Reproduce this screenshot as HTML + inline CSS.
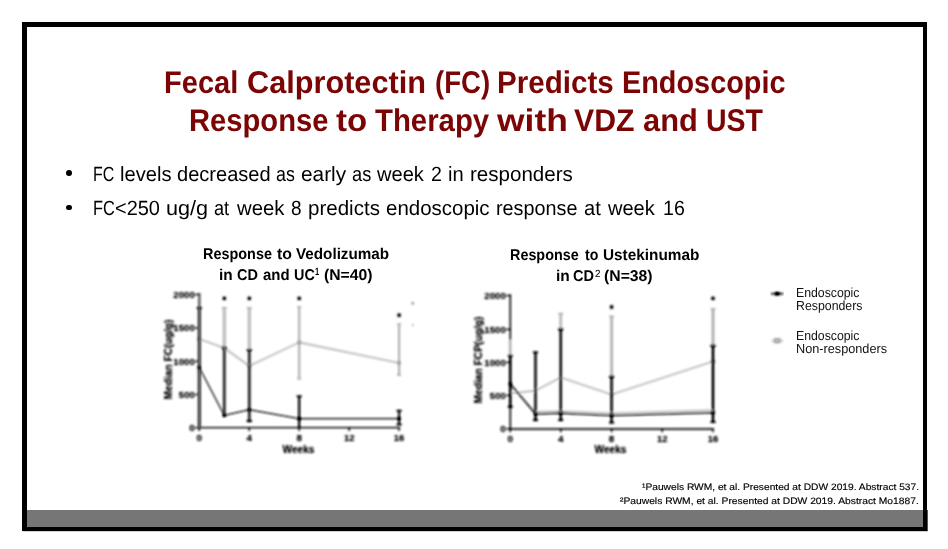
<!DOCTYPE html>
<html lang="en"><head><meta charset="utf-8"><title>Fecal Calprotectin (FC) Predicts Endoscopic Response</title>
<style>
html,body{margin:0;padding:0;background:#fff;}
body{width:948px;height:549px;position:relative;overflow:hidden;font-family:"Liberation Sans",sans-serif;}
.slide{position:absolute;left:22px;top:22px;width:905px;height:509px;box-sizing:border-box;border-style:solid;border-color:#000;border-width:5px 4px 4px 5px;background:#fff;}
.bar{position:absolute;left:27px;top:510px;width:896px;height:17px;background:#767676;}
.shadow{position:absolute;left:927px;top:510px;width:1px;height:21px;background:#555;}
.shadow2{position:absolute;left:23px;top:531px;width:905px;height:1px;background:rgba(0,0,0,0.18);}
h1,p,.g,sup{position:absolute;left:0;top:0;margin:0;padding:0;font-size:0;font-weight:400;}
.t{position:absolute;white-space:nowrap;text-rendering:geometricPrecision;line-height:1;transform-origin:0 0;margin:0;padding:0;}
.dot{position:absolute;width:5.8px;height:5.8px;border-radius:50%;background:#000;}
svg{position:absolute;left:0;top:0;}
</style></head><body>
<div class="slide"></div><div class="bar"></div><div class="shadow"></div><div class="shadow2"></div>
<h1>
<span class="t" style="left:164.45px;top:67.00px;font-size:31.4px;font-weight:700;color:#7b0505;transform-origin:0 26px;transform:scale(0.9250,1)">Fecal </span>
<span class="t" style="left:246.72px;top:67.00px;font-size:31.4px;font-weight:700;color:#7b0505;transform-origin:0 26px;transform:scale(0.9772,1)">Calprotectin </span>
<span class="t" style="left:434.92px;top:67.00px;font-size:31.4px;font-weight:700;color:#7b0505;transform-origin:0 26px;transform:scale(0.8783,1)">(FC) </span>
<span class="t" style="left:497.42px;top:67.00px;font-size:31.4px;font-weight:700;color:#7b0505;transform-origin:0 26px;transform:scale(0.9421,1)">Predicts </span>
<span class="t" style="left:622.46px;top:67.00px;font-size:31.4px;font-weight:700;color:#7b0505;transform-origin:0 26px;transform:scale(0.9189,1)">Endoscopic</span>
<br>
<span class="t" style="left:189.14px;top:105.00px;font-size:31.4px;font-weight:700;color:#7b0505;transform-origin:0 26px;transform:scale(0.9293,1)">Response </span>
<span class="t" style="left:335.80px;top:105.00px;font-size:31.4px;font-weight:700;color:#7b0505;transform-origin:0 26px;transform:scale(1.0517,1)">to </span>
<span class="t" style="left:374.80px;top:105.00px;font-size:31.4px;font-weight:700;color:#7b0505;transform-origin:0 26px;transform:scale(0.9352,1)">Therapy </span>
<span class="t" style="left:496.90px;top:105.00px;font-size:31.4px;font-weight:700;color:#7b0505;transform-origin:0 26px;transform:scale(1.1279,1)">with </span>
<span class="t" style="left:574.30px;top:105.00px;font-size:31.4px;font-weight:700;color:#7b0505;transform-origin:0 26px;transform:scale(0.9629,1)">VDZ </span>
<span class="t" style="left:642.82px;top:105.00px;font-size:31.4px;font-weight:700;color:#7b0505;transform-origin:0 26px;transform:scale(0.9811,1)">and </span>
<span class="t" style="left:705.78px;top:105.00px;font-size:31.4px;font-weight:700;color:#7b0505;transform-origin:0 26px;transform:scale(0.9083,1)">UST</span>
</h1>
<p>
<span class="t" style="left:93.05px;top:165.00px;font-size:20.6px;font-weight:400;color:#000;transform-origin:0 16px;transform:scale(0.7750,1)">FC </span>
<span class="t" style="left:119.72px;top:165.00px;font-size:20.6px;font-weight:400;color:#000;transform-origin:0 16px;transform:scale(0.9784,1)">levels </span>
<span class="t" style="left:176.53px;top:165.00px;font-size:20.6px;font-weight:400;color:#000;transform-origin:0 16px;transform:scale(0.9734,1)">decreased </span>
<span class="t" style="left:276.44px;top:165.00px;font-size:20.6px;font-weight:400;color:#000;transform-origin:0 16px;transform:scale(0.8650,1)">as </span>
<span class="t" style="left:301.29px;top:165.00px;font-size:20.6px;font-weight:400;color:#000;transform-origin:0 16px;transform:scale(1.0116,1)">early </span>
<span class="t" style="left:351.72px;top:165.00px;font-size:20.6px;font-weight:400;color:#000;transform-origin:0 16px;transform:scale(0.8850,1)">as </span>
<span class="t" style="left:377.20px;top:165.00px;font-size:20.6px;font-weight:400;color:#000;transform-origin:0 16px;transform:scale(0.9750,1)">week </span>
<span class="t" style="left:430.65px;top:165.00px;font-size:20.6px;font-weight:400;color:#000;transform-origin:0 16px;transform:scale(0.9500,1)">2 </span>
<span class="t" style="left:447.92px;top:165.00px;font-size:20.6px;font-weight:400;color:#000;transform-origin:0 16px;transform:scale(0.9786,1)">in </span>
<span class="t" style="left:469.50px;top:165.00px;font-size:20.6px;font-weight:400;color:#000;transform-origin:0 16px;transform:scale(0.9980,1)">responders</span>
</p>
<p>
<span class="t" style="left:93.01px;top:199.00px;font-size:20.6px;font-weight:400;color:#000;transform-origin:0 16px;transform:scale(0.7958,1)">FC</span>
<span class="t" style="left:114.63px;top:199.00px;font-size:20.6px;font-weight:400;color:#000;transform-origin:0 16px;transform:scale(0.9689,1)">&lt;250 </span>
<span class="t" style="left:165.85px;top:199.00px;font-size:20.6px;font-weight:400;color:#000;transform-origin:0 16px;transform:scale(1.0500,1)">ug/g </span>
<span class="t" style="left:213.52px;top:199.00px;font-size:20.6px;font-weight:400;color:#000;transform-origin:0 16px;transform:scale(0.8812,1)">at </span>
<span class="t" style="left:236.60px;top:199.00px;font-size:20.6px;font-weight:400;color:#000;transform-origin:0 16px;transform:scale(0.9875,1)">week </span>
<span class="t" style="left:290.98px;top:199.00px;font-size:20.6px;font-weight:400;color:#000;transform-origin:0 16px;transform:scale(0.9200,1)">8 </span>
<span class="t" style="left:307.90px;top:199.00px;font-size:20.6px;font-weight:400;color:#000;transform-origin:0 16px;transform:scale(0.9971,1)">predicts </span>
<span class="t" style="left:385.91px;top:199.00px;font-size:20.6px;font-weight:400;color:#000;transform-origin:0 16px;transform:scale(0.9942,1)">endoscopic </span>
<span class="t" style="left:495.84px;top:199.00px;font-size:20.6px;font-weight:400;color:#000;transform-origin:0 16px;transform:scale(0.9614,1)">response </span>
<span class="t" style="left:583.72px;top:199.00px;font-size:20.6px;font-weight:400;color:#000;transform-origin:0 16px;transform:scale(0.9750,1)">at </span>
<span class="t" style="left:607.80px;top:199.00px;font-size:20.6px;font-weight:400;color:#000;transform-origin:0 16px;transform:scale(0.9729,1)">week </span>
<span class="t" style="left:662.55px;top:199.00px;font-size:20.6px;font-weight:400;color:#000;transform-origin:0 16px;transform:scale(0.9524,1)">16</span>
</p>
<div class="g">
<span class="t" style="left:202.78px;top:247.00px;font-size:15.6px;font-weight:700;color:#000;transform-origin:0 12px;transform:scale(0.9247,1)">Response </span>
<span class="t" style="left:276.80px;top:247.00px;font-size:15.6px;font-weight:700;color:#000;transform-origin:0 12px;transform:scale(1.0143,1)">to </span>
<span class="t" style="left:296.00px;top:247.00px;font-size:15.6px;font-weight:700;color:#000;transform-origin:0 12px;transform:scale(0.9768,1)">Vedolizumab</span>
</div>
<div class="g">
<span class="t" style="left:219.42px;top:268.00px;font-size:15.6px;font-weight:700;color:#000;transform-origin:0 12px;transform:scale(0.9833,1)">in </span>
<span class="t" style="left:237.07px;top:268.00px;font-size:15.6px;font-weight:700;color:#000;transform-origin:0 12px;transform:scale(0.9286,1)">CD </span>
<span class="t" style="left:262.80px;top:268.00px;font-size:15.6px;font-weight:700;color:#000;transform-origin:0 12px;transform:scale(0.9593,1)">and </span>
<span class="t" style="left:293.58px;top:268.00px;font-size:15.6px;font-weight:700;color:#000;transform-origin:0 12px;transform:scale(0.9238,1)">UC </span>
<span class="t" style="left:323.89px;top:268.00px;font-size:15.6px;font-weight:700;color:#000;transform-origin:0 12px;transform:scale(1.0085,1)">(N=40)</span>
</div>
<sup>
<span class="t" style="left:314.58px;top:267.00px;font-size:10.5px;font-weight:700;color:#000;transform-origin:0 8px;transform:scale(0.7200,1)">1</span>
</sup>
<div class="g">
<span class="t" style="left:509.88px;top:248.00px;font-size:15.6px;font-weight:700;color:#000;transform-origin:0 12px;transform:scale(0.9219,1)">Response </span>
<span class="t" style="left:584.90px;top:248.00px;font-size:15.6px;font-weight:700;color:#000;transform-origin:0 12px;transform:scale(0.9071,1)">to </span>
<span class="t" style="left:603.02px;top:248.00px;font-size:15.6px;font-weight:700;color:#000;transform-origin:0 12px;transform:scale(0.9844,1)">Ustekinumab</span>
</div>
<div class="g">
<span class="t" style="left:556.21px;top:269.00px;font-size:15.6px;font-weight:700;color:#000;transform-origin:0 12px;transform:scale(0.9917,1)">in </span>
<span class="t" style="left:573.47px;top:269.00px;font-size:15.6px;font-weight:700;color:#000;transform-origin:0 12px;transform:scale(0.9333,1)">CD </span>
<span class="t" style="left:604.19px;top:269.00px;font-size:15.6px;font-weight:700;color:#000;transform-origin:0 12px;transform:scale(1.0106,1)">(N=38)</span>
</div>
<sup>
<span class="t" style="left:595.10px;top:270.00px;font-size:10.3px;font-weight:400;color:#000;transform-origin:0 7px;transform:scale(0.9600,1)">2</span>
</sup>
<div class="g">
<span class="t" style="left:796.16px;top:286.00px;font-size:13.1px;font-weight:400;color:#111;transform-origin:0 11px;transform:scale(0.9379,1)">Endoscopic</span>
</div>
<div class="g">
<span class="t" style="left:796.16px;top:299.00px;font-size:13.1px;font-weight:400;color:#111;transform-origin:0 11px;transform:scale(0.9420,1)">Responders</span>
</div>
<div class="g">
<span class="t" style="left:796.16px;top:329.00px;font-size:13.1px;font-weight:400;color:#111;transform-origin:0 11px;transform:scale(0.9379,1)">Endoscopic</span>
</div>
<div class="g">
<span class="t" style="left:796.13px;top:342.00px;font-size:13.1px;font-weight:400;color:#111;transform-origin:0 11px;transform:scale(0.9696,1)">Non-responders</span>
</div>
<div class="g">
<span class="t" style="left:642.00px;top:483.00px;font-size:9.3px;font-weight:400;color:#000;transform-origin:0 7px;transform:scale(1.0996,1);-webkit-text-stroke:0.15px #000">&#185;Pauwels RWM, et al. Presented at DDW 2019. Abstract 537.</span>
</div>
<div class="g">
<span class="t" style="left:620.40px;top:497.00px;font-size:9.3px;font-weight:400;color:#000;transform-origin:0 7px;transform:scale(1.1063,1);-webkit-text-stroke:0.15px #000">&#178;Pauwels RWM, et al. Presented at DDW 2019. Abstract Mo1887.</span>
</div>
<div class="dot" style="left:65.8px;top:170.2px"></div>
<div class="dot" style="left:65.8px;top:204.7px"></div>
<svg width="948" height="549" viewBox="0 0 948 549" font-family="Liberation Sans, sans-serif" font-weight="700" fill="#222">
<defs><filter id="bl" x="-5%" y="-5%" width="110%" height="110%"><feGaussianBlur stdDeviation="0.9"/><feComponentTransfer><feFuncA type="linear" slope="1.35" intercept="0"/></feComponentTransfer></filter></defs>
<g filter="url(#bl)">
<line x1="224.3" y1="308" x2="224.3" y2="348" stroke="#c8c8c8" stroke-width="3" />
<line x1="221.8" y1="308" x2="226.8" y2="308" stroke="#bdbdbd" stroke-width="1.6" />
<line x1="249.3" y1="308" x2="249.3" y2="350" stroke="#c8c8c8" stroke-width="3" />
<line x1="246.8" y1="308" x2="251.8" y2="308" stroke="#bdbdbd" stroke-width="1.6" />
<line x1="299.2" y1="307" x2="299.2" y2="378.7" stroke="#bdbdbd" stroke-width="2" />
<line x1="297.2" y1="307" x2="301.2" y2="307" stroke="#bdbdbd" stroke-width="1.6" />
<line x1="297.2" y1="378.7" x2="301.2" y2="378.7" stroke="#bdbdbd" stroke-width="1.6" />
<line x1="399.1" y1="324.2" x2="399.1" y2="375" stroke="#bdbdbd" stroke-width="2" />
<line x1="397.1" y1="324.2" x2="401.1" y2="324.2" stroke="#bdbdbd" stroke-width="1.6" />
<line x1="397.1" y1="375" x2="401.1" y2="375" stroke="#bdbdbd" stroke-width="1.6" />
<polyline points="199.3,339 224.3,348 249.3,366 299.2,342.4 399.1,363" fill="none" stroke="#c6c6c6" stroke-width="1.6" stroke-linejoin="round"/>
<line x1="199.3" y1="293" x2="199.3" y2="428.6" stroke="#888" stroke-width="2.6" />
<line x1="198.4" y1="427.7" x2="400.1" y2="427.7" stroke="#222" stroke-width="1.25" />
<line x1="195.3" y1="294.5" x2="199.3" y2="294.5" stroke="#333" stroke-width="1.4" />
<line x1="195.3" y1="328" x2="199.3" y2="328" stroke="#333" stroke-width="1.4" />
<line x1="195.3" y1="361.3" x2="199.3" y2="361.3" stroke="#333" stroke-width="1.4" />
<line x1="195.3" y1="394.5" x2="199.3" y2="394.5" stroke="#333" stroke-width="1.4" />
<line x1="195.3" y1="427.7" x2="199.3" y2="427.7" stroke="#333" stroke-width="1.4" />
<line x1="199.3" y1="427.7" x2="199.3" y2="431" stroke="#333" stroke-width="1.4" />
<line x1="249.3" y1="427.7" x2="249.3" y2="431" stroke="#333" stroke-width="1.4" />
<line x1="299.2" y1="427.7" x2="299.2" y2="431" stroke="#333" stroke-width="1.4" />
<line x1="349.2" y1="427.7" x2="349.2" y2="431" stroke="#333" stroke-width="1.4" />
<line x1="399.1" y1="427.7" x2="399.1" y2="431" stroke="#333" stroke-width="1.4" />
<line x1="199.3" y1="307" x2="199.3" y2="428" stroke="#666" stroke-width="3.1" />
<line x1="196.8" y1="308" x2="201.8" y2="308" stroke="#333" stroke-width="2" />
<line x1="224.3" y1="348" x2="224.3" y2="415.4" stroke="#555" stroke-width="2.7" />
<line x1="221.8" y1="348" x2="226.8" y2="348" stroke="#111" stroke-width="2" />
<line x1="249.3" y1="350" x2="249.3" y2="421" stroke="#555" stroke-width="2.7" />
<line x1="246.8" y1="350" x2="251.8" y2="350" stroke="#111" stroke-width="2" />
<line x1="246.8" y1="421" x2="251.8" y2="421" stroke="#111" stroke-width="2" />
<line x1="299.2" y1="396.3" x2="299.2" y2="428" stroke="#111" stroke-width="1.8" />
<line x1="296.7" y1="396.3" x2="301.7" y2="396.3" stroke="#111" stroke-width="1.6" />
<line x1="399.1" y1="410.7" x2="399.1" y2="425" stroke="#111" stroke-width="1.6" />
<line x1="396.6" y1="410.7" x2="401.6" y2="410.7" stroke="#111" stroke-width="1.6" />
<line x1="396.6" y1="424.5" x2="401.6" y2="424.5" stroke="#111" stroke-width="1.6" />
<polyline points="199.3,367.5 224.3,415.4 249.3,409.7 299.2,418.7 399.1,418.7" fill="none" stroke="#111" stroke-width="1.0" stroke-linejoin="round"/>
<rect x="197.70000000000002" y="365.9" width="3.2" height="3.2" fill="#111"/>
<rect x="222.70000000000002" y="413.79999999999995" width="3.2" height="3.2" fill="#111"/>
<rect x="247.70000000000002" y="408.09999999999997" width="3.2" height="3.2" fill="#111"/>
<rect x="297.59999999999997" y="417.09999999999997" width="3.2" height="3.2" fill="#111"/>
<rect x="397.5" y="417.09999999999997" width="3.2" height="3.2" fill="#111"/>
<rect x="197.70000000000002" y="337.4" width="3.2" height="3.2" fill="#555"/>
<rect x="222.70000000000002" y="346.4" width="3.2" height="3.2" fill="#555"/>
<rect x="247.70000000000002" y="364.4" width="3.2" height="3.2" fill="#555"/>
<rect x="297.59999999999997" y="340.79999999999995" width="3.2" height="3.2" fill="#aaa"/>
<rect x="397.5" y="361.4" width="3.2" height="3.2" fill="#aaa"/>
<rect x="222.70000000000002" y="296.79999999999995" width="3.2" height="3.2" fill="#222"/>
<rect x="247.70000000000002" y="296.79999999999995" width="3.2" height="3.2" fill="#222"/>
<rect x="297.59999999999997" y="296.79999999999995" width="3.2" height="3.2" fill="#222"/>
<rect x="397.5" y="313.59999999999997" width="3.2" height="3.2" fill="#222"/>
<rect x="411.7" y="302" width="2" height="2.5" fill="#999"/>
<rect x="412" y="324" width="1.5" height="2" fill="#bbb"/>
<text x="194.8" y="297.9" font-size="9.5" text-anchor="end" textLength="21.5" lengthAdjust="spacingAndGlyphs" >2000</text>
<text x="194.8" y="331.4" font-size="9.5" text-anchor="end" textLength="21.5" lengthAdjust="spacingAndGlyphs" >1500</text>
<text x="194.8" y="364.7" font-size="9.5" text-anchor="end" textLength="21.5" lengthAdjust="spacingAndGlyphs" >1000</text>
<text x="194.8" y="397.9" font-size="9.5" text-anchor="end" textLength="16" lengthAdjust="spacingAndGlyphs" >500</text>
<text x="194.8" y="431.09999999999997" font-size="9.5" text-anchor="end" textLength="5.5" lengthAdjust="spacingAndGlyphs" >0</text>
<text x="199.3" y="440.8" font-size="9.5" text-anchor="middle" textLength="5.5" lengthAdjust="spacingAndGlyphs" >0</text>
<text x="249.3" y="440.8" font-size="9.5" text-anchor="middle" textLength="5.5" lengthAdjust="spacingAndGlyphs" >4</text>
<text x="299.2" y="440.8" font-size="9.5" text-anchor="middle" textLength="5.5" lengthAdjust="spacingAndGlyphs" >8</text>
<text x="349.2" y="440.8" font-size="9.5" text-anchor="middle" textLength="10.5" lengthAdjust="spacingAndGlyphs" >12</text>
<text x="399.1" y="440.8" font-size="9.5" text-anchor="middle" textLength="10.5" lengthAdjust="spacingAndGlyphs" >16</text>
<text x="298.5" y="452.6" font-size="10" text-anchor="middle" textLength="32" lengthAdjust="spacingAndGlyphs" >Weeks</text>
<text transform="translate(171.6,359.5) rotate(-90)" font-size="10" text-anchor="middle" textLength="80" lengthAdjust="spacingAndGlyphs">Median FC(ug/g)</text>
</g>
<g filter="url(#bl)">
<line x1="560.7" y1="313.7" x2="560.7" y2="329.4" stroke="#c8c8c8" stroke-width="2.6" />
<line x1="558.2" y1="313.7" x2="563.2" y2="313.7" stroke="#bdbdbd" stroke-width="1.6" />
<line x1="611.6" y1="316.5" x2="611.6" y2="376.8" stroke="#bdbdbd" stroke-width="2.4" />
<line x1="609.1" y1="316.5" x2="614.1" y2="316.5" stroke="#bdbdbd" stroke-width="1.6" />
<line x1="713" y1="309" x2="713" y2="345.8" stroke="#bdbdbd" stroke-width="2.6" />
<line x1="710.5" y1="309" x2="715.5" y2="309" stroke="#bdbdbd" stroke-width="1.6" />
<polyline points="510.3,393.5 535.5,390.6 560.7,377.5 611.6,394.4 713,361.5" fill="none" stroke="#c6c6c6" stroke-width="1.6" stroke-linejoin="round"/>
<line x1="510.3" y1="294.2" x2="510.3" y2="429.8" stroke="#222" stroke-width="1.4" />
<line x1="509.40000000000003" y1="429" x2="714" y2="429" stroke="#222" stroke-width="1.6" />
<line x1="506.3" y1="295.5" x2="510.3" y2="295.5" stroke="#333" stroke-width="1.4" />
<line x1="506.3" y1="329.4" x2="510.3" y2="329.4" stroke="#333" stroke-width="1.4" />
<line x1="506.3" y1="362.4" x2="510.3" y2="362.4" stroke="#333" stroke-width="1.4" />
<line x1="506.3" y1="395.4" x2="510.3" y2="395.4" stroke="#333" stroke-width="1.4" />
<line x1="506.3" y1="428.8" x2="510.3" y2="428.8" stroke="#333" stroke-width="1.4" />
<line x1="510.3" y1="429" x2="510.3" y2="432.3" stroke="#333" stroke-width="1.4" />
<line x1="560.7" y1="429" x2="560.7" y2="432.3" stroke="#333" stroke-width="1.4" />
<line x1="611.6" y1="429" x2="611.6" y2="432.3" stroke="#333" stroke-width="1.4" />
<line x1="662.3" y1="429" x2="662.3" y2="432.3" stroke="#333" stroke-width="1.4" />
<line x1="713" y1="429" x2="713" y2="432.3" stroke="#333" stroke-width="1.4" />
<line x1="510.3" y1="340" x2="510.3" y2="355.7" stroke="#c4c4c4" stroke-width="2.2" />
<line x1="510.3" y1="355.7" x2="510.3" y2="406.8" stroke="#111" stroke-width="2.0" />
<line x1="507.8" y1="355.7" x2="512.8" y2="355.7" stroke="#111" stroke-width="1.6" />
<line x1="507.8" y1="406.8" x2="512.8" y2="406.8" stroke="#111" stroke-width="1.6" />
<line x1="535.5" y1="352.3" x2="535.5" y2="420.2" stroke="#111" stroke-width="2.0" />
<line x1="533.0" y1="352.3" x2="538.0" y2="352.3" stroke="#111" stroke-width="1.6" />
<line x1="533.0" y1="420.2" x2="538.0" y2="420.2" stroke="#111" stroke-width="1.6" />
<line x1="560.7" y1="329.4" x2="560.7" y2="420.2" stroke="#222" stroke-width="2.2" />
<line x1="558.2" y1="329.4" x2="563.2" y2="329.4" stroke="#111" stroke-width="2" />
<line x1="558.2" y1="420.2" x2="563.2" y2="420.2" stroke="#111" stroke-width="1.6" />
<line x1="611.6" y1="376.8" x2="611.6" y2="422.7" stroke="#111" stroke-width="2.0" />
<line x1="609.1" y1="376.8" x2="614.1" y2="376.8" stroke="#111" stroke-width="2" />
<line x1="609.1" y1="422.7" x2="614.1" y2="422.7" stroke="#111" stroke-width="1.6" />
<line x1="713" y1="345.8" x2="713" y2="422" stroke="#222" stroke-width="2.2" />
<line x1="710.5" y1="345.8" x2="715.5" y2="345.8" stroke="#111" stroke-width="2" />
<line x1="710.5" y1="422" x2="715.5" y2="422" stroke="#111" stroke-width="1.6" />
<polyline points="535.5,411.6 560.7,411 611.6,413 713,410.2" fill="none" stroke="#bbb" stroke-width="1.2" stroke-linejoin="round"/>
<polyline points="510.3,383.9 535.5,413.9 560.7,413.2 611.6,415.4 713,412.6" fill="none" stroke="#111" stroke-width="1.25" stroke-linejoin="round"/>
<rect x="508.7" y="382.29999999999995" width="3.2" height="3.2" fill="#111"/>
<rect x="533.9" y="412.29999999999995" width="3.2" height="3.2" fill="#111"/>
<rect x="559.1" y="411.59999999999997" width="3.2" height="3.2" fill="#111"/>
<rect x="610.0" y="413.79999999999995" width="3.2" height="3.2" fill="#111"/>
<rect x="711.4" y="411.0" width="3.2" height="3.2" fill="#111"/>
<rect x="610.0" y="392.79999999999995" width="3.2" height="3.2" fill="#333"/>
<rect x="711.4" y="359.9" width="3.2" height="3.2" fill="#333"/>
<rect x="610.0" y="305.4" width="3.2" height="3.2" fill="#222"/>
<rect x="711.4" y="296.79999999999995" width="3.2" height="3.2" fill="#222"/>
<text x="505.8" y="298.9" font-size="9.5" text-anchor="end" textLength="21.5" lengthAdjust="spacingAndGlyphs" >2000</text>
<text x="505.8" y="332.79999999999995" font-size="9.5" text-anchor="end" textLength="21.5" lengthAdjust="spacingAndGlyphs" >1500</text>
<text x="505.8" y="365.79999999999995" font-size="9.5" text-anchor="end" textLength="21.5" lengthAdjust="spacingAndGlyphs" >1000</text>
<text x="505.8" y="398.79999999999995" font-size="9.5" text-anchor="end" textLength="16" lengthAdjust="spacingAndGlyphs" >500</text>
<text x="505.8" y="432.2" font-size="9.5" text-anchor="end" textLength="5.5" lengthAdjust="spacingAndGlyphs" >0</text>
<text x="510.3" y="442.2" font-size="9.5" text-anchor="middle" textLength="5.5" lengthAdjust="spacingAndGlyphs" >0</text>
<text x="560.7" y="442.2" font-size="9.5" text-anchor="middle" textLength="5.5" lengthAdjust="spacingAndGlyphs" >4</text>
<text x="611.6" y="442.2" font-size="9.5" text-anchor="middle" textLength="5.5" lengthAdjust="spacingAndGlyphs" >8</text>
<text x="662.3" y="442.2" font-size="9.5" text-anchor="middle" textLength="10.5" lengthAdjust="spacingAndGlyphs" >12</text>
<text x="713" y="442.2" font-size="9.5" text-anchor="middle" textLength="10.5" lengthAdjust="spacingAndGlyphs" >16</text>
<text x="610.5" y="453.4" font-size="10" text-anchor="middle" textLength="32" lengthAdjust="spacingAndGlyphs" >Weeks</text>
<text transform="translate(481.6,360) rotate(-90)" font-size="10" text-anchor="middle" textLength="87" lengthAdjust="spacingAndGlyphs">Median FCP(ug/g)</text>
</g>
<g filter="url(#bl)">
<line x1="771" y1="293.7" x2="783.3" y2="293.7" stroke="#333" stroke-width="1.6" />
<rect x="775" y="292" width="4.4" height="3.4" fill="#000"/>
<line x1="771.5" y1="340.7" x2="783" y2="340.7" stroke="#c8c8c8" stroke-width="1.6" />
<rect x="774" y="338.2" width="6.4" height="5" fill="#b4b4b4"/>
</g>
</svg>
</body></html>
